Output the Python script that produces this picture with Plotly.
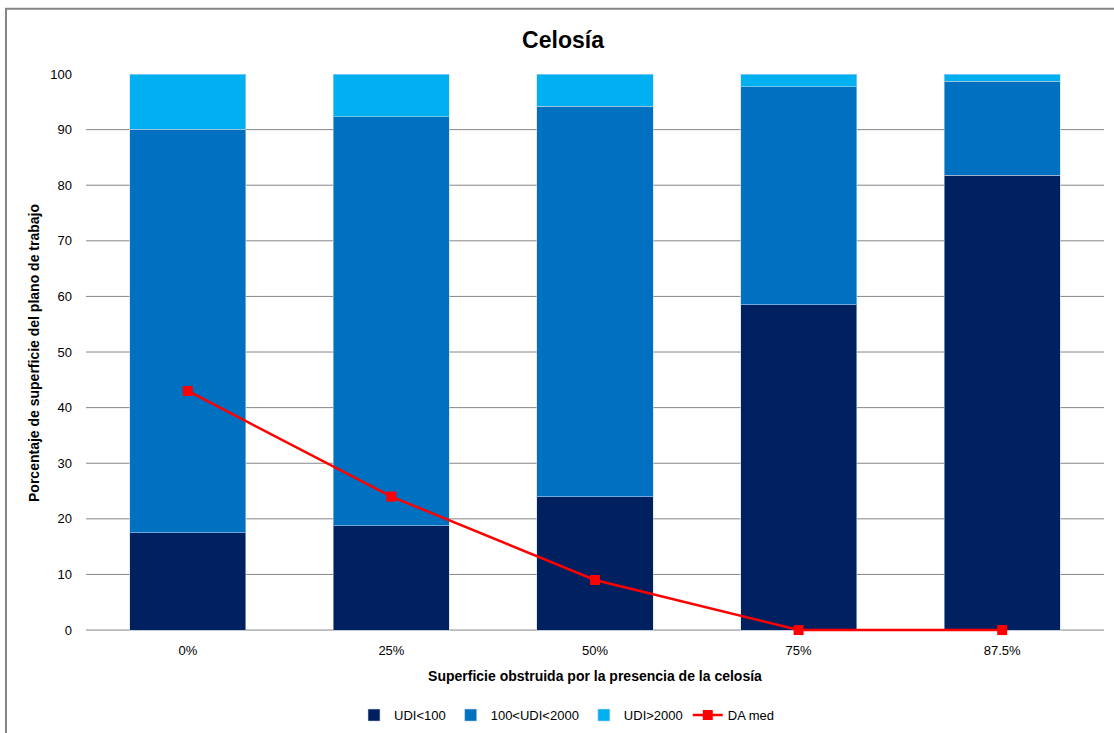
import plotly.graph_objects as go

categories = ["0%", "25%", "50%", "75%", "87.5%"]
udi_low = [17.5, 18.8, 24.0, 58.5, 81.8]
udi_mid = [72.6, 73.5, 70.2, 39.2, 16.9]
udi_high = [9.9, 7.7, 5.8, 2.3, 1.3]
da_med = [43, 24, 9, 0, 0]
y_ticks = [0, 10, 20, 30, 40, 50, 60, 70, 80, 90, 100]

FONT = "Liberation Sans"
GRID = "#868686"
edge = dict(width=1, color="rgba(200,215,235,0.55)")

fig = go.Figure()
fig.add_trace(go.Bar(x=categories, y=udi_low, name="UDI<100", marker=dict(color="#002060", line=edge)))
fig.add_trace(go.Bar(x=categories, y=udi_mid, name="100<UDI<2000", marker=dict(color="#0070C0", line=edge)))
fig.add_trace(go.Bar(x=categories, y=udi_high, name="UDI>2000", marker=dict(color="#00B0F0", line=edge)))
fig.add_trace(go.Scatter(x=categories, y=da_med, name="DA med", mode="lines+markers",
                         line=dict(color="#FF0000", width=2.5), cliponaxis=False,
                         marker=dict(symbol="square", size=10, color="#FF0000")))

shapes = []
for v in y_ticks[:-1]:
    shapes.append(dict(type="line", xref="paper", x0=0, x1=1, yref="y", y0=v, y1=v,
                       line=dict(color=GRID, width=1), layer="below"))
# outer chart border
shapes.append(dict(type="rect", xref="paper", yref="paper", x0=-0.0786, x1=1.05, y0=-0.2, y1=1.1169,
                   line=dict(color=GRID, width=2), fillcolor="rgba(0,0,0,0)", layer="below"))

fig.update_layout(
    width=1114, height=733,
    margin=dict(l=86, r=10, t=74, b=101, autoexpand=False),
    paper_bgcolor="white", plot_bgcolor="white",
    barmode="stack", bargap=0.43,
    font=dict(family=FONT, size=13, color="#000000"),
    title=dict(text="<b>Celosía</b>", x=0.4686, xref="paper", xanchor="center",
               y=(733 - 40) / 733, yref="container", yanchor="middle",
               font=dict(family=FONT, size=23, color="#000000")),
    xaxis=dict(showgrid=False, showline=False, zeroline=False, ticks="", automargin=False,
               tickfont=dict(size=13), ticklabelstandoff=9,
               title=dict(text="<b>Superficie obstruida por la presencia de la celosía</b>",
                          font=dict(size=14), standoff=14)),
    yaxis=dict(range=[-0.35, 100], tickvals=y_ticks, showgrid=False, zeroline=False, showline=False,
               ticks="", tickfont=dict(size=13), ticklabelstandoff=13, automargin=False,
               title=dict(text="<b>Porcentaje de superficie del plano de trabajo</b>",
                          font=dict(size=14), standoff=7)),
    legend=dict(orientation="h", x=0.4725, xanchor="center", y=-0.149, yanchor="middle",
                font=dict(size=13), traceorder="normal"),
    shapes=shapes,
    showlegend=True,
)

fig.write_html("out.html")
